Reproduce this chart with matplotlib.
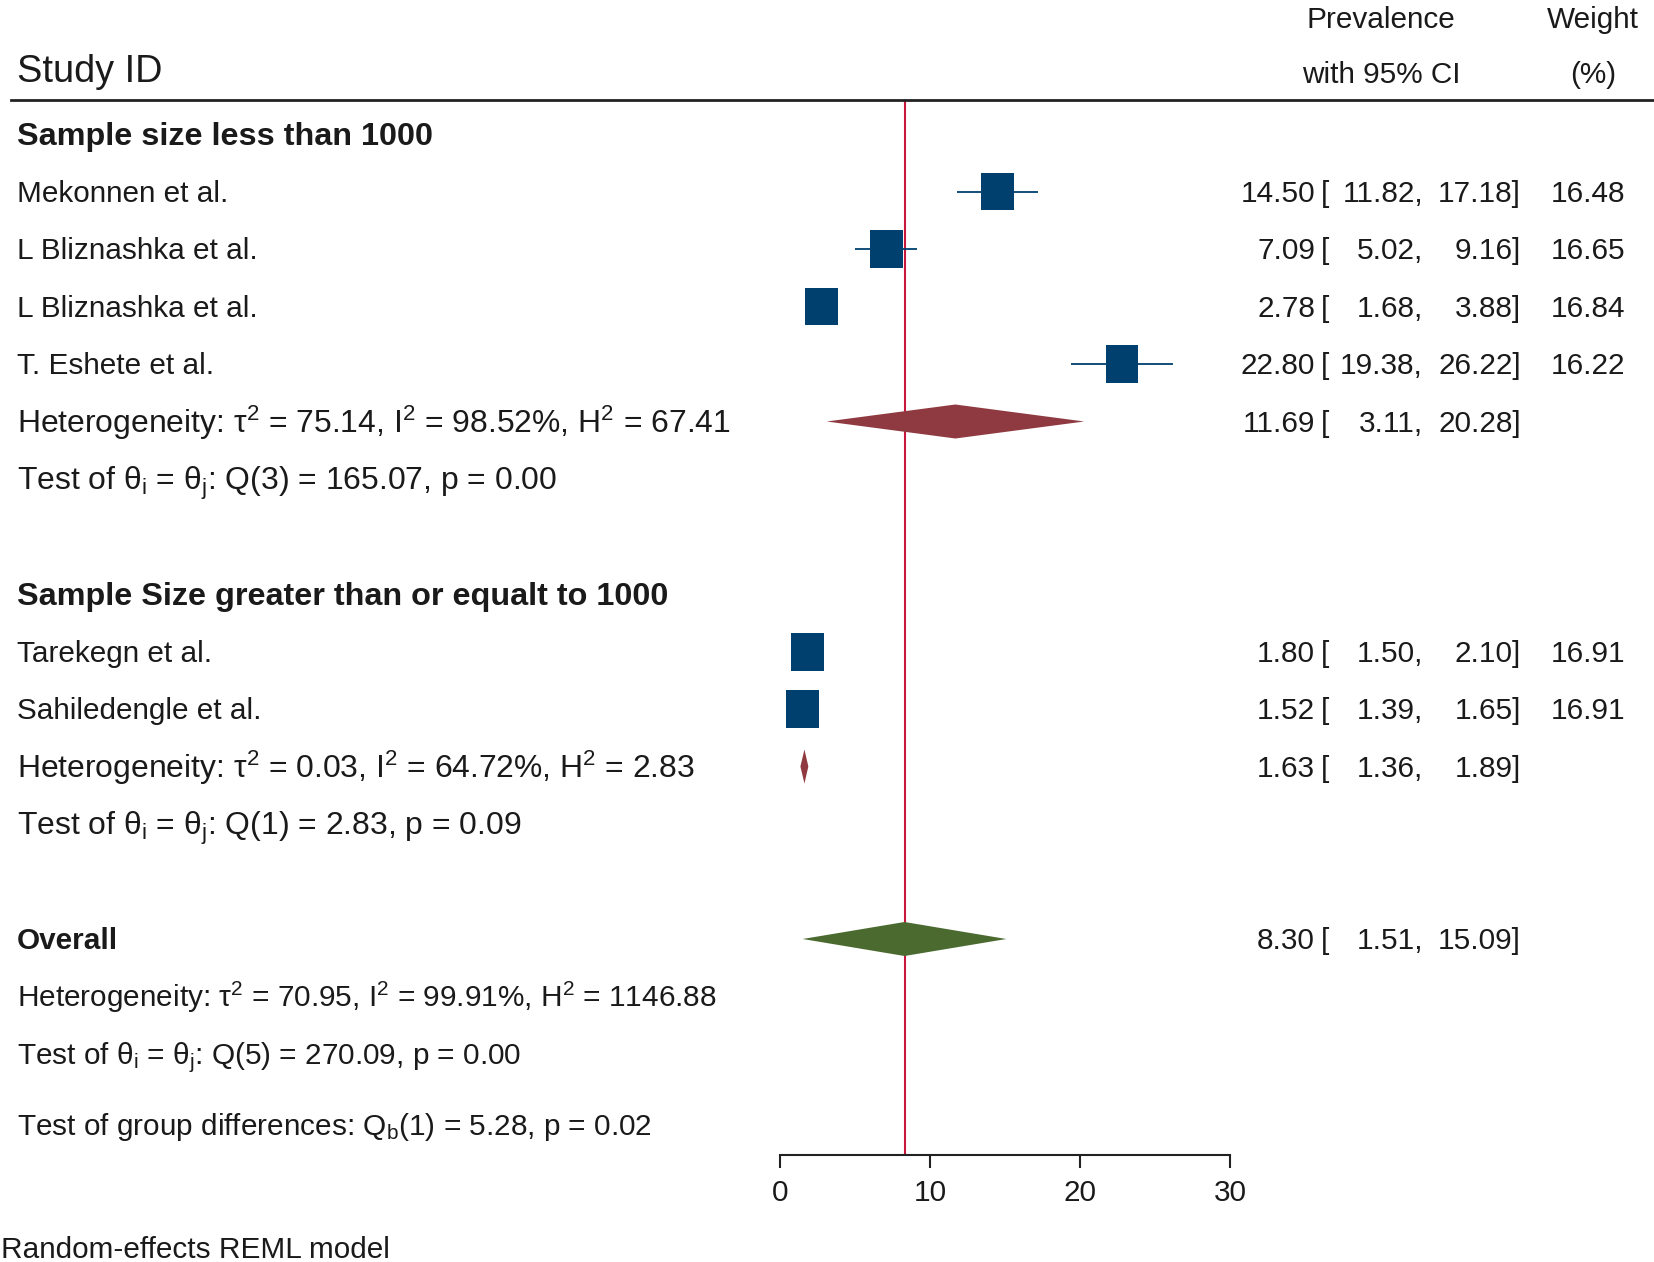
import numpy as np
import matplotlib
matplotlib.use("Agg")
import matplotlib.pyplot as plt
from matplotlib import font_manager as fm
from matplotlib.patches import Rectangle, Polygon
from matplotlib.transforms import blended_transform_factory

# ---------------- data ----------------
studies = ["Mekonnen et al.", "L Bliznashka et al.", "L Bliznashka et al.",
           "T. Eshete et al.", "Tarekegn et al.", "Sahiledengle et al."]
study_group = [0, 0, 0, 0, 1, 1]
est = [14.50, 7.09, 2.78, 22.80, 1.80, 1.52]
lo = [11.82, 5.02, 1.68, 19.38, 1.50, 1.39]
hi = [17.18, 9.16, 3.88, 26.22, 2.10, 1.65]
weight = [16.48, 16.65, 16.84, 16.22, 16.91, 16.91]

group_names = ["Sample size less than 1000",
               "Sample Size greater than or equalt to 1000"]
group_est = [11.69, 1.63]
group_lo = [3.11, 1.36]
group_hi = [20.28, 1.89]
SUP = "$^{2}$"
SI = "$_{\\mathrm{i}}$"
SJ = "$_{\\mathrm{j}}$"
group_het = [f"Heterogeneity: τ{SUP} = 75.14, I{SUP} = 98.52%, H{SUP} = 67.41",
             f"Heterogeneity: τ{SUP} = 0.03, I{SUP} = 64.72%, H{SUP} = 2.83"]
group_test = [f"Test of θ{SI} = θ{SJ}: Q(3) = 165.07, p = 0.00",
              f"Test of θ{SI} = θ{SJ}: Q(1) = 2.83, p = 0.09"]

overall_est, overall_lo, overall_hi = 8.30, 1.51, 15.09
overall_het = f"Heterogeneity: τ{SUP} = 70.95, I{SUP} = 99.91%, H{SUP} = 1146.88"
overall_test = f"Test of θ{SI} = θ{SJ}: Q(5) = 270.09, p = 0.00"
group_diff = "Test of group differences: Q$_{\\mathrm{b}}$(1) = 5.28, p = 0.02"
model_note = "Random-effects REML model"
xticks = [0, 10, 20, 30]

# ---------------- style ----------------
W, H = 1654, 1262
names = {f.name for f in fm.fontManager.ttflist}
FONT = "Liberation Sans Narrow" if "Liberation Sans Narrow" in names else "Liberation Sans"
FAM = [FONT, "DejaVu Sans"]
plt.rcParams["font.family"] = FAM
plt.rcParams["mathtext.fontset"] = "custom"
plt.rcParams["mathtext.rm"] = FONT
plt.rcParams["mathtext.it"] = FONT
plt.rcParams["mathtext.bf"] = FONT + ":bold"
plt.rcParams["mathtext.default"] = "regular"

TXT = "#1a1a1a"
NAVY = "#00406F"
CRAN = "#8F3A40"
GREEN = "#4A6A30"
RED = "#C8163C"

fig = plt.figure(figsize=(W / 100, H / 100), dpi=100)
ax = fig.add_axes([0, 0, 1, 1])
X0, XS = 780.0, 15.0           # px of x=0, px per unit
R0, RH = 134.0, 57.5           # px of row 0, px per row
ax.set_xlim(-X0 / XS, (W - X0) / XS)
ax.set_ylim((H - R0) / RH, -R0 / RH)
for s in ["top", "left", "right"]:
    ax.spines[s].set_visible(False)
ax.set_yticks([])
ax.patch.set_alpha(0)

def py(p):
    return (p - R0) / RH

tr = blended_transform_factory(ax.transAxes, ax.transData)
def fx(p):
    return p / W

# calibrate font size to measured text widths
renderer = fig.canvas.get_renderer()
def fit_size(s, target, weight="normal"):
    t = ax.text(0, 0, s, fontsize=20, fontweight=weight)
    w = t.get_window_extent(renderer).width
    t.remove()
    return 20 * target / w

FS = fit_size("Mekonnen et al.", 211)
FS_G = FS * 1.07                      # subgroup statistics lines
FS_B = fit_size("Sample size less than 1000", 416, "bold")
FS_ID = fit_size("Study ID", 145)

def off(fs):
    return (0.70 * fs * 100 / 72 / 2) / RH   # baseline below row centre

def label(row, s, fs, bold=False, x=17):
    ax.text(fx(x), row + off(fs), s, transform=tr, fontsize=fs,
            color=TXT, ha="left", va="baseline",
            fontweight="bold" if bold else "normal")

def ci_cols(row, e, l, h, w=None):
    kw = dict(transform=tr, fontsize=FS, color=TXT, va="baseline")
    o = off(FS)
    ax.text(fx(1315), row + o, f"{e:.2f}", ha="right", **kw)
    ax.text(fx(1321), row + o, "[", ha="left", **kw)
    ax.text(fx(1423), row + o, f"{l:.2f},", ha="right", **kw)
    ax.text(fx(1521), row + o, f"{h:.2f}]", ha="right", **kw)
    if w is not None:
        ax.text(fx(1625), row + o, f"{w:.2f}", ha="right", **kw)

# header
ax.text(fx(17), py(82), "Study ID", transform=tr, fontsize=FS_ID, color=TXT,
        ha="left", va="baseline")
ax.text(fx(1381), py(28), "Prevalence", transform=tr, fontsize=FS, color=TXT,
        ha="center", va="baseline")
ax.text(fx(1381), py(83), "with 95% CI", transform=tr, fontsize=FS, color=TXT,
        ha="center", va="baseline")
ax.text(fx(1593), py(28), "Weight", transform=tr, fontsize=FS, color=TXT,
        ha="center", va="baseline")
ax.text(fx(1593), py(83), "(%)", transform=tr, fontsize=FS, color=TXT,
        ha="center", va="baseline")
ax.axhline(py(100), xmin=fx(11), xmax=1, color="#222222", lw=2.0)

# reference line at overall estimate
axis_row = py(1155)
ax.vlines(overall_est, py(100), axis_row, color=RED, lw=1.5, zorder=1)

DH = 17.0 / RH  # diamond half height (rows)

def diamond(row, e, l, h, color):
    ax.add_patch(Polygon([(l, row), (e, row - DH), (h, row), (e, row + DH)],
                         closed=True, facecolor=color, edgecolor="none", zorder=3))

group_start = [0, 8]
for g in range(2):
    row = group_start[g]
    label(row, group_names[g], FS_B, bold=True)
    row += 1
    for i in range(len(studies)):
        if study_group[i] != g:
            continue
        label(row, studies[i], FS)
        ax.hlines(row, lo[i], hi[i], color=NAVY, lw=1.3, zorder=2)
        k = np.sqrt(weight[i] / 16.91)
        wd = 33.0 / XS * k
        ht = 38.0 / RH * k
        ax.add_patch(Rectangle((est[i] - wd / 2, row - ht / 2), wd, ht,
                               facecolor=NAVY, edgecolor="none", zorder=3))
        ci_cols(row, est[i], lo[i], hi[i], weight[i])
        row += 1
    label(row, group_het[g], FS_G)
    diamond(row, group_est[g], group_lo[g], group_hi[g], CRAN)
    ci_cols(row, group_est[g], group_lo[g], group_hi[g])
    row += 1
    label(row, group_test[g], FS_G)

orow = 14
label(orow, "Overall", FS, bold=True)
diamond(orow, overall_est, overall_lo, overall_hi, GREEN)
ci_cols(orow, overall_est, overall_lo, overall_hi)
label(orow + 1, overall_het, FS)
label(orow + 2, overall_test, FS)
ax.text(fx(17), py(1125) + off(FS), group_diff, transform=tr, fontsize=FS,
        color=TXT, ha="left", va="baseline")
ax.text(fx(1), py(1258), model_note, transform=tr, fontsize=FS,
        color=TXT, ha="left", va="baseline")

# x axis
ax.spines["bottom"].set_position(("data", axis_row))
ax.spines["bottom"].set_bounds(xticks[0], xticks[-1])
ax.spines["bottom"].set_linewidth(1.5)
ax.spines["bottom"].set_color("#222222")
ax.set_xticks(xticks)
ax.set_xticklabels([str(t) for t in xticks])
ax.tick_params(axis="x", direction="out", length=9.5, width=1.5, color="#222222",
               labelsize=FS, labelcolor=TXT, pad=8)

fig.savefig("out.png", dpi=100, facecolor="white")
